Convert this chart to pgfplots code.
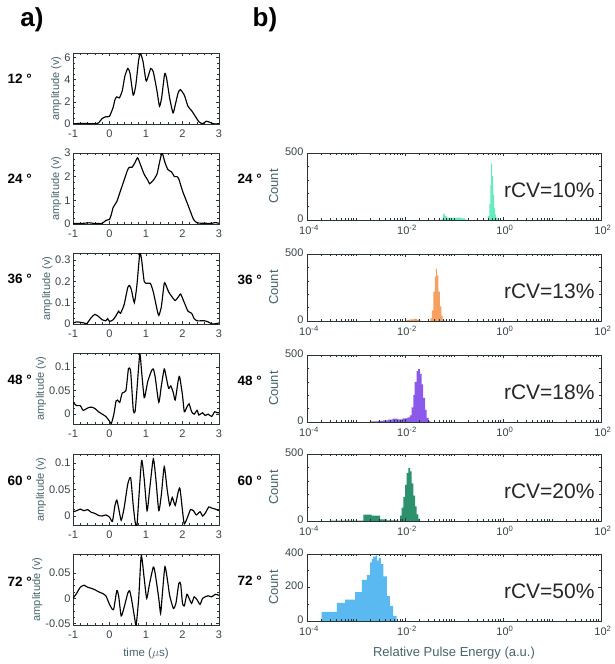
\documentclass[border=0pt]{standalone}
\usepackage{fontspec}
\setmainfont{Liberation Sans}
\usepackage{pgfplots}
\pgfplotsset{compat=1.18}
\definecolor{axc}{RGB}{40,52,55}
\definecolor{labc}{RGB}{70,100,106}
\definecolor{tickc}{RGB}{55,68,70}
\definecolor{c24}{RGB}{100,235,190}
\definecolor{c36}{RGB}{245,160,95}
\definecolor{c48}{RGB}{140,90,235}
\definecolor{c60}{RGB}{45,145,110}
\definecolor{c72}{RGB}{90,185,240}
\tikzset{rcv/.style={anchor=east, font=\fontsize{21}{24}\selectfont, text=black!85}}
\pgfplotsset{
  common/.style={
    scale only axis,
    scaled ticks=false,
    tick align=inside,
    xtick pos=both, ytick pos=both,
    xticklabel pos=lower, yticklabel pos=left,
    major tick length=3pt, minor tick length=1.6pt,
    axis line style={axc, line width=0.9pt},
    every tick/.style={axc, line width=0.6pt},
    anchor=north west,
    clip=true,
  },
  leftp/.style={
    common,
    width=146pt, height=71pt,
    xmin=-1, xmax=3, xtick={-1,0,1,2,3},
    xticklabels={-1,0,1,2,3},
    minor x tick num=4, minor y tick num=3,
    tick label style={font=\fontsize{11}{13}\selectfont, text=tickc},
    yticklabel style={xshift=1pt},
    xticklabel style={yshift=-2.5pt},
    ylabel={amplitude (v)},
    ylabel shift=-4pt,
    ylabel style={font=\fontsize{11}{13}\selectfont, text=labc},
  },
  rightp/.style={
    common,
    axis on top,
    width=294pt, height=67pt,
    xmin=1e-4, xmax=1e2, ymin=0, ymax=500,
    xtick={1e-4,1e-2,1,100},
    xticklabels={10\textsuperscript{-4},10\textsuperscript{-2},10\textsuperscript{0},10\textsuperscript{2}},
    minor xtick={2e-4,3e-4,4e-4,5e-4,6e-4,7e-4,8e-4,9e-4,1e-3,2e-3,3e-3,4e-3,5e-3,6e-3,7e-3,8e-3,9e-3,2e-2,3e-2,4e-2,5e-2,6e-2,7e-2,8e-2,9e-2,0.1,0.2,0.3,0.4,0.5,0.6,0.7,0.8,0.9,2,3,4,5,6,7,8,9,10,20,30,40,50,60,70,80,90},
    ytick={0,500}, yticklabels={0,500}, minor ytick={100,200,300,400},
    tick label style={font=\fontsize{11}{13}\selectfont, text=tickc},
    xticklabel style={yshift=-1.5pt, xshift=2pt},
    yticklabel style={yshift=1.5pt},
    ylabel={Count},
    ylabel style={font=\fontsize{13}{15}\selectfont, text=labc},
  },
  sig/.style={black, line width=1.15pt, smooth, tension=0.35},
}
\newcommand{\anglab}[3]{\node[anchor=west, font=\bfseries\fontsize{13.5}{15}\selectfont] at (#1pt,-#2pt) {#3};}
\begin{document}
\begin{tikzpicture}
\path[use as bounding box] (0,0) rectangle (614pt,-664pt);
\node[font=\bfseries\fontsize{26}{28}\selectfont] at (32pt,-20pt) {a)};
\node[font=\bfseries\fontsize{26}{28}\selectfont] at (265pt,-20pt) {b)};

% ---------- left panels ----------
\begin{axis}[leftp, at={(73pt,-53pt)}, ymin=0, ymax=6.4, ytick={0,2,4,6}, yticklabels={0,2,4,6}]
\addplot[sig] coordinates {(-1,0.02)(-0.8,0.05)(-0.6,0.04)(-0.4,0.02)(-0.3,0.1)(-0.2,0.5)(-0.1,0.65)(0,0.7)(0.1,1.5)(0.15,2.2)(0.2,2.45)(0.27,2.35)(0.35,3.0)(0.42,4.3)(0.5,5.0)(0.56,4.6)(0.65,2.6)(0.72,3.5)(0.8,5.8)(0.85,6.37)(0.92,5.6)(1.0,3.9)(1.05,4.2)(1.13,5.0)(1.2,4.7)(1.3,3.0)(1.37,1.6)(1.43,2.4)(1.51,4.5)(1.56,4.2)(1.65,2.3)(1.74,1.0)(1.8,1.7)(1.88,2.8)(1.94,3.1)(2.05,2.6)(2.15,1.6)(2.25,1.2)(2.35,0.7)(2.45,0.2)(2.55,0.02)(2.65,0.25)(2.75,0.15)(2.85,0.02)(3,0.02)};
\end{axis}
\begin{axis}[leftp, at={(73pt,-153pt)}, ymin=0, ymax=3, ytick={0,1,2,3}, yticklabels={0,1,2,3}]
\addplot[sig] coordinates {(-1,0.02)(-0.8,0.02)(-0.55,0.05)(-0.4,0.02)(-0.2,0.03)(-0.1,0.15)(0,0.2)(0.05,0.4)(0.1,0.7)(0.2,0.95)(0.3,1.4)(0.4,1.85)(0.5,2.3)(0.55,2.4)(0.62,2.4)(0.7,2.6)(0.77,2.8)(0.85,2.5)(0.95,2.1)(1.05,1.85)(1.1,1.7)(1.2,1.85)(1.3,2.1)(1.37,2.6)(1.44,3.0)(1.52,2.6)(1.6,2.3)(1.7,2.2)(1.78,2.0)(1.85,2.0)(1.9,1.9)(2.0,1.4)(2.1,1.0)(2.2,0.6)(2.3,0.2)(2.4,0.05)(2.6,0.03)(2.8,0.03)(2.9,0.06)(3,0.03)};
\end{axis}
\begin{axis}[leftp, at={(73pt,-253pt)}, ymin=0, ymax=0.332, ytick={0,0.1,0.2,0.3}, yticklabels={0,0.1,0.2,0.3}]
\addplot[sig] coordinates {(-1,0.003)(-0.9,0.01)(-0.7,0.005)(-0.62,0.002)(-0.5,0.03)(-0.4,0.045)(-0.3,0.035)(-0.2,0.02)(-0.1,0.015)(-0.05,0.025)(0.0,0.012)(0.1,0.02)(0.2,0.045)(0.25,0.06)(0.3,0.05)(0.4,0.09)(0.5,0.17)(0.55,0.18)(0.6,0.16)(0.68,0.1)(0.75,0.18)(0.83,0.33)(0.88,0.3)(0.95,0.2)(1.02,0.19)(1.12,0.19)(1.2,0.15)(1.3,0.07)(1.35,0.04)(1.42,0.08)(1.5,0.19)(1.55,0.18)(1.62,0.15)(1.7,0.13)(1.8,0.11)(1.9,0.13)(1.95,0.14)(2.05,0.1)(2.15,0.06)(2.25,0.05)(2.32,0.025)(2.4,0.015)(2.5,0.015)(2.6,0.015)(2.7,0.01)(2.8,0.001)(2.9,0.001)(3,0.005)};
\end{axis}
\begin{axis}[leftp, at={(73pt,-353pt)}, ymin=-0.021, ymax=0.13, ytick={0,0.05,0.1}, yticklabels={0,0.05,0.1}]
\addplot[sig] coordinates {(-1,0.025)(-0.9,0.018)(-0.8,0.018)(-0.72,0.008)(-0.6,0.013)(-0.5,0.015)(-0.4,0.012)(-0.3,0.005)(-0.2,0.0)(-0.1,-0.005)(0.0,-0.015)(0.05,-0.02)(0.12,0.0)(0.18,0.028)(0.22,0.03)(0.28,0.025)(0.35,0.045)(0.45,0.05)(0.52,0.097)(0.58,0.09)(0.65,0.01)(0.7,0.005)(0.75,0.05)(0.83,0.128)(0.88,0.09)(0.95,0.035)(1.0,0.05)(1.05,0.07)(1.15,0.092)(1.2,0.096)(1.25,0.08)(1.35,0.025)(1.42,0.06)(1.5,0.096)(1.55,0.08)(1.62,0.055)(1.68,0.06)(1.75,0.045)(1.8,0.03)(1.88,0.07)(1.92,0.08)(2.0,0.04)(2.05,0.005)(2.12,0.015)(2.18,0.022)(2.25,0.005)(2.32,0.0)(2.4,0.008)(2.45,-0.002)(2.55,0.003)(2.62,-0.003)(2.7,0.0)(2.8,-0.005)(2.88,0.005)(2.95,0.003)(3.0,0.003)};
\end{axis}
\begin{axis}[leftp, at={(73pt,-454pt)}, ymin=-0.017, ymax=0.117, ytick={0,0.05,0.1}, yticklabels={0,0.05,0.1}]
\addplot[sig] coordinates {(-1,0.008)(-0.9,0.01)(-0.8,0.013)(-0.7,0.01)(-0.6,0.012)(-0.5,0.007)(-0.4,0.005)(-0.3,0.001)(-0.2,0.0)(-0.1,0.002)(0.0,-0.002)(0.08,-0.01)(0.15,0.02)(0.2,0.03)(0.25,0.015)(0.32,-0.008)(0.4,0.015)(0.5,0.06)(0.58,0.072)(0.65,0.02)(0.7,-0.01)(0.75,-0.02)(0.8,0.03)(0.88,0.105)(0.95,0.07)(1.03,0.01)(1.1,0.05)(1.2,0.108)(1.27,0.07)(1.35,0.01)(1.42,0.04)(1.5,0.093)(1.58,0.05)(1.65,0.02)(1.72,0.035)(1.8,0.02)(1.88,0.045)(1.93,0.052)(2.0,0.01)(2.05,-0.015)(2.15,0.0)(2.22,0.012)(2.3,0.01)(2.38,0.002)(2.48,0.008)(2.55,0.0)(2.62,0.005)(2.72,0.017)(2.8,0.015)(2.9,0.013)(3.0,0.01)};
\end{axis}
\begin{axis}[leftp, at={(73pt,-554pt)}, ymin=-0.053, ymax=0.088, ytick={-0.05,0,0.05}, yticklabels={-0.05,0,0.05}, xlabel={time ($\mu$s)}, xlabel style={font=\fontsize{11.5}{13}\selectfont, text=labc, yshift=-2pt}]
\addplot[sig] coordinates {(-1,0.0)(-0.9,0.01)(-0.8,0.022)(-0.7,0.026)(-0.6,0.022)(-0.5,0.02)(-0.4,0.017)(-0.3,0.013)(-0.2,0.01)(-0.1,0.005)(0.0,-0.012)(0.08,-0.022)(0.12,-0.02)(0.2,0.015)(0.25,0.005)(0.32,-0.035)(0.4,-0.018)(0.5,0.01)(0.55,0.015)(0.6,0.0)(0.68,-0.035)(0.73,-0.053)(0.8,0.0)(0.87,0.085)(0.95,0.04)(1.02,0.0)(1.1,0.03)(1.2,0.062)(1.25,0.05)(1.35,0.0)(1.4,-0.03)(1.45,0.01)(1.52,0.063)(1.6,0.03)(1.65,0.005)(1.75,-0.02)(1.82,-0.01)(1.9,0.03)(1.95,0.028)(2.0,-0.01)(2.05,-0.015)(2.12,0.008)(2.18,0.0)(2.25,-0.01)(2.32,0.003)(2.4,-0.003)(2.48,-0.012)(2.55,0.0)(2.62,0.003)(2.7,0.005)(2.8,0.003)(2.9,0.008)(3.0,0.006)};
\end{axis}

% ---------- right panels ----------
\begin{semilogxaxis}[rightp, at={(307pt,-153pt)}]
\addplot[const plot, fill=c24, draw=none] coordinates {(0.0501,0)(0.0562,8)(0.0603,45)(0.0646,30)(0.0708,18)(0.0891,15)(0.112,18)(0.141,12)(0.166,5)(0.178,0)(0.468,0)(0.490,30)(0.525,120)(0.550,260)(0.575,420)(0.603,330)(0.631,190)(0.661,90)(0.692,40)(0.724,15)(0.776,0)} \closedcycle;
\node[rcv] at (rel axis cs:0.99,0.45) {rCV=10\%};
\end{semilogxaxis}
\begin{semilogxaxis}[rightp, at={(307pt,-254pt)}]
\addplot[const plot, fill=c36, draw=none] coordinates {(0.0100,0)(0.0107,8)(0.0126,12)(0.0151,15)(0.0174,10)(0.0191,5)(0.0209,0)(0.0316,0)(0.0331,20)(0.0355,80)(0.0380,220)(0.0407,330)(0.0427,390)(0.0447,340)(0.0479,220)(0.0513,110)(0.0550,40)(0.0589,12)(0.0631,3)(0.0708,0)} \closedcycle;
\node[rcv] at (rel axis cs:0.99,0.45) {rCV=13\%};
\end{semilogxaxis}
\begin{semilogxaxis}[rightp, at={(307pt,-355pt)}]
\addplot[const plot, fill=c48, draw=none] coordinates {(0.00191,0)(0.00200,5)(0.00282,8)(0.00355,12)(0.00447,18)(0.00562,25)(0.00708,20)(0.00891,28)(0.0112,35)(0.0126,50)(0.0136,110)(0.0148,200)(0.0158,300)(0.0172,380)(0.0186,395)(0.0201,360)(0.0219,280)(0.0234,180)(0.0257,90)(0.0275,30)(0.0302,8)(0.0324,0)} \closedcycle;
\node[rcv] at (rel axis cs:0.99,0.45) {rCV=18\%};
\end{semilogxaxis}
\begin{semilogxaxis}[rightp, at={(307pt,-454pt)}]
\addplot[const plot, fill=c60, draw=none] coordinates {(2.95e-4,3)(1.41e-3,48)(2.09e-3,40)(3.09e-3,12)(4.27e-3,5)(7.31e-3,0)(7.91e-3,40)(8.55e-3,100)(9.25e-3,180)(1.0e-2,270)(1.081e-2,360)(1.169e-2,394)(1.265e-2,370)(1.368e-2,280)(1.479e-2,190)(1.600e-2,110)(1.730e-2,50)(1.871e-2,15)(2.023e-2,0)} \closedcycle;
\node[rcv] at (rel axis cs:0.99,0.45) {rCV=20\%};
\end{semilogxaxis}
\begin{semilogxaxis}[rightp, at={(307pt,-554pt)}, ymax=400, ytick={0,200,400}, yticklabels={0,200,400}, minor ytick={100,300},
  xlabel={Relative Pulse Energy (a.u.)}, xlabel style={font=\fontsize{13}{15}\selectfont, text=labc, yshift=-5pt}]
\addplot[const plot, fill=c72, draw=none] coordinates {(2.0e-4,55)(4.07e-4,108)(6.03e-4,128)(9.55e-4,173)(1.32e-3,246)(1.66e-3,276)(1.95e-3,350)(2.1e-3,370)(2.24e-3,385)(2.5e-3,392)(2.7e-3,360)(2.88e-3,375)(3.2e-3,340)(3.63e-3,266)(4.27e-3,148)(4.90e-3,89)(5.75e-3,30)(6.76e-3,0)} \closedcycle;
\node[rcv] at (rel axis cs:0.99,0.45) {rCV=50\%};
\end{semilogxaxis}

% ---------- angle labels ----------
\anglab{4}{79}{12 °}
\anglab{4}{179}{24 °}
\anglab{4}{279}{36 °}
\anglab{4}{380}{48 °}
\anglab{4}{481}{60 °}
\anglab{4}{582}{72 °}
\anglab{234}{179}{24 °}
\anglab{234}{280}{36 °}
\anglab{234}{381}{48 °}
\anglab{234}{481}{60 °}
\anglab{234}{581}{72 °}
\end{tikzpicture}
\end{document}
